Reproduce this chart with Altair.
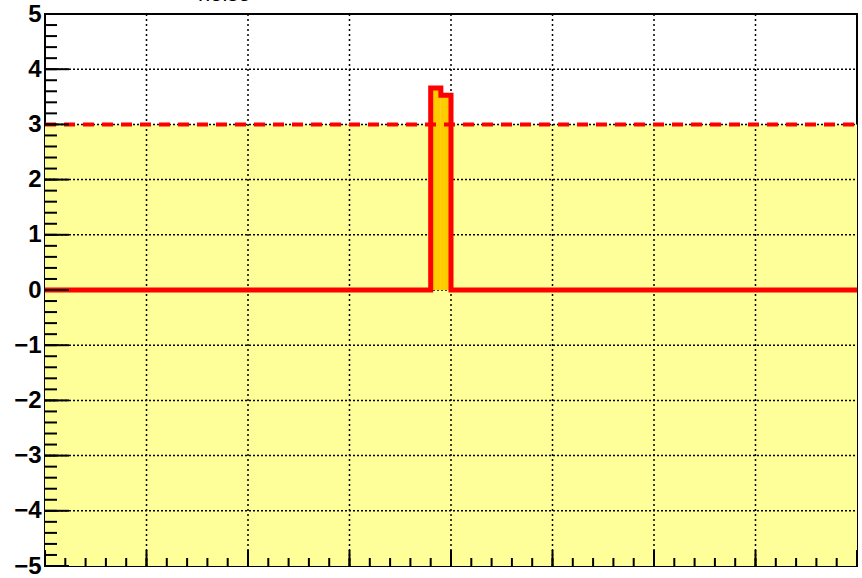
import altair as alt
import numpy as np
import pandas as pd

# Histogram: 80 bins of width 0.1 over [0, 8]; only two bins are filled
bin_width = 0.1
n_bins = 80
counts = [0.0] * 38 + [3.66, 3.53] + [0.0] * 40
threshold = 3.0

# Axis ticks and grid
y_major = list(range(-5, 6))
y_minor = [round(v, 1) for v in np.arange(-5, 5.001, 0.2)]
x_major = list(range(0, 9))
x_minor = [round(v, 1) for v in np.arange(0, 8.001, 0.2)]
y_grid = list(range(-4, 5))
x_grid = list(range(1, 8))

W, H = 812, 552
XS = alt.Scale(domain=[0, 8], nice=False, zero=False)
YS = alt.Scale(domain=[-5, 5], nice=False, zero=False)
YAX = alt.Axis(
    values=y_major, format="d", title=None, ticks=False, domain=False, grid=False,
    labelFont="Liberation Sans", labelFontWeight="bold", labelFontSize=24,
    labelColor="black", labelPadding=4, labelFlush=False, labelOverlap=False,
    labelBound=False)

lo = [round(i * bin_width, 2) for i in range(n_bins)]
hist = pd.DataFrame({"lo": lo, "hi": [round(v + bin_width, 2) for v in lo],
                     "v": counts, "base": [0.0] * n_bins})
outline = pd.DataFrame({"x": lo + [8.0], "y": counts + [counts[-1]]})

# band below the threshold
band = alt.Chart(pd.DataFrame({"x0": [0], "x1": [8], "y0": [-5], "y1": [threshold]})).mark_rect(
    color="#FFFF99").encode(
    x=alt.X("x0:Q", scale=XS, axis=None),
    x2="x1:Q",
    y=alt.Y("y0:Q", scale=YS, axis=YAX),
    y2="y1:Q",
)

hgrid = alt.Chart(pd.DataFrame({"g": y_grid})).mark_rule(
    color="black", strokeWidth=1.5, strokeDash=[2, 2]).encode(
    y=alt.Y("g:Q", scale=YS, axis=YAX), x=alt.value(0), x2=alt.value(W))
vgrid = alt.Chart(pd.DataFrame({"g": x_grid})).mark_rule(
    color="black", strokeWidth=1.5, strokeDash=[2, 3]).encode(
    x=alt.X("g:Q", scale=XS, axis=None), y=alt.value(0), y2=alt.value(H))

fill = alt.Chart(hist).mark_rect(color="#FFCC00").encode(
    x=alt.X("lo:Q", scale=XS, axis=None), x2="hi:Q",
    y=alt.Y("v:Q", scale=YS, axis=YAX), y2="base:Q")

thr_line = alt.Chart(pd.DataFrame({"t": [threshold]})).mark_rule(
    color="#FF0000", strokeWidth=4, strokeDash=[11, 8]).encode(
    y=alt.Y("t:Q", scale=YS, axis=YAX), x=alt.value(0), x2=alt.value(W))

line = alt.Chart(outline).mark_line(
    color="#FF0000", strokeWidth=5, interpolate="step-after",
    strokeJoin="miter", strokeCap="butt").encode(
    x=alt.X("x:Q", scale=XS, axis=None), y=alt.Y("y:Q", scale=YS, axis=YAX))

def yticks(vals, length):
    return alt.Chart(pd.DataFrame({"t": vals})).mark_rule(color="black", strokeWidth=2).encode(
        y=alt.Y("t:Q", scale=YS, axis=YAX), x=alt.value(0), x2=alt.value(length))

def xticks(vals, length):
    return alt.Chart(pd.DataFrame({"t": vals})).mark_rule(color="black", strokeWidth=2).encode(
        x=alt.X("t:Q", scale=XS, axis=None), y=alt.value(H), y2=alt.value(H - length))

# title, mostly above the top edge of the page
title_main = alt.Chart(pd.DataFrame({"s": ["Sig (σ"]})).mark_text(
    align="right", baseline="alphabetic", fontSize=30, font="Liberation Sans", color="black").encode(
    text="s:N", x=alt.value(151), y=alt.value(-20))
title_sub = alt.Chart(pd.DataFrame({"s": ["noise"]})).mark_text(
    align="left", baseline="alphabetic", fontSize=22, font="Liberation Sans", color="black").encode(
    text="s:N", x=alt.value(153), y=alt.value(-13))
title_end = alt.Chart(pd.DataFrame({"s": [")"]})).mark_text(
    align="left", baseline="alphabetic", fontSize=30, font="Liberation Sans", color="black").encode(
    text="s:N", x=alt.value(208), y=alt.value(-20))

chart = alt.layer(
    band, hgrid, vgrid, fill, thr_line, line,
    yticks(y_minor, 12), yticks(y_major, 24),
    xticks(x_minor, 8), xticks(x_major, 16),
    title_main, title_sub, title_end,
).properties(
    width=W, height=H,
    padding={"left": 45, "top": 14, "right": 5, "bottom": 12},
    autosize=alt.AutoSizeParams(type="none"),
    background="white",
).configure_view(stroke="black", strokeWidth=2)

chart.save("out.html", embed_options={"renderer": "svg", "actions": False})
